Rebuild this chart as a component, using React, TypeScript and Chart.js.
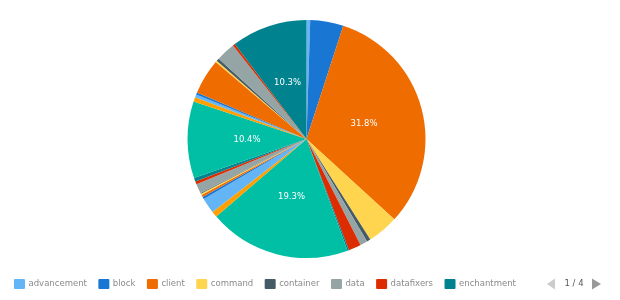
import React, { useEffect, useRef } from "react";
import { Chart, registerables } from "chart.js";

Chart.register(...registerables);

const categories = [
  "advancement", "block", "client", "command", "container", "data", "datafixers", "enchantment",
  "entity", "fluid", "gui", "inventory", "item", "loot", "nbt", "network",
  "particle", "potion", "renderer", "resources", "scoreboard", "server", "sound", "stats",
  "tags", "util", "village", "world",
];

const values = [
  5, 45, 318, 42, 5, 10, 17, 2,
  193, 8, 21, 3, 3, 2, 1, 13,
  4, 5, 104, 6, 4, 3, 48, 2,
  4, 26, 3, 103,
];

const palette = [
  "#64b5f6", "#1976d2", "#ef6c00", "#ffd54f", "#455a64",
  "#95a5a6", "#dd2c00", "#00838f", "#00bfa5", "#ffa000",
];

const legendPage = "1 / 4";
const legendPerPage = 8;

export default function App() {
  const ref = useRef<HTMLCanvasElement>(null);

  useEffect(() => {
    if (!ref.current) return;
    const font = '"DejaVu Sans", sans-serif';
    const colors = categories.map((_, i) => palette[i % palette.length]);

    const labelPlugin = {
      id: "sliceLabels",
      afterDatasetsDraw(chart: any) {
        const ctx = chart.ctx;
        const meta = chart.getDatasetMeta(0);
        const data = chart.data.datasets[0].data as number[];
        const total = data.reduce((a, b) => a + b, 0);
        ctx.save();
        ctx.font = `8.5px ${font}`;
        ctx.fillStyle = "#ffffff";
        ctx.textAlign = "center";
        ctx.textBaseline = "middle";
        meta.data.forEach((arc: any, i: number) => {
          const pct = (data[i] / total) * 100;
          if (pct < 10) return;
          const p = arc.getProps(["x", "y", "startAngle", "endAngle", "outerRadius"], true);
          const mid = (p.startAngle + p.endAngle) / 2;
          const d = p.outerRadius / 2;
          ctx.fillText(pct.toFixed(1) + "%", p.x + Math.cos(mid) * d, p.y + Math.sin(mid) * d);
        });
        ctx.restore();
      },
    };

    const legendPlugin = {
      id: "pagedLegend",
      afterDraw(chart: any) {
        const ctx = chart.ctx;
        ctx.save();
        ctx.font = `8.5px ${font}`;
        ctx.textBaseline = "middle";
        ctx.textAlign = "left";
        const yMid = 284;
        let x = 14;
        for (let i = 0; i < legendPerPage; i++) {
          ctx.fillStyle = colors[i];
          ctx.beginPath();
          (ctx as any).roundRect ? (ctx as any).roundRect(x, yMid - 5, 11, 10, 1) : ctx.rect(x, yMid - 5, 11, 10);
          ctx.fill();
          x += 11 + 3.5;
          ctx.fillStyle = "#8a8a8a";
          ctx.fillText(categories[i], x, yMid);
          x += ctx.measureText(categories[i]).width + 11.5;
        }
        ctx.fillStyle = "#cccccc";
        ctx.beginPath();
        ctx.moveTo(555, yMid - 5.5);
        ctx.lineTo(547, yMid);
        ctx.lineTo(555, yMid + 5.5);
        ctx.closePath();
        ctx.fill();
        ctx.fillStyle = "#555555";
        ctx.textAlign = "center";
        ctx.fillText(legendPage, 574, yMid);
        ctx.fillStyle = "#999999";
        ctx.beginPath();
        ctx.moveTo(592, yMid - 5.5);
        ctx.lineTo(601, yMid);
        ctx.lineTo(592, yMid + 5.5);
        ctx.closePath();
        ctx.fill();
        ctx.restore();
      },
    };

    const chart = new Chart(ref.current, {
      type: "pie",
      data: {
        labels: categories,
        datasets: [
          {
            data: values,
            backgroundColor: colors,
            borderWidth: 0,
          },
        ],
      },
      options: {
        responsive: false,
        animation: false,
        devicePixelRatio: 1,
        layout: { padding: { top: 20, bottom: 42, left: 0, right: 7 } },
        plugins: {
          legend: { display: false },
          tooltip: { enabled: false },
        },
      },
      plugins: [labelPlugin, legendPlugin],
    });
    return () => chart.destroy();
  }, []);

  return (
    <div style={{ position: "fixed", left: 0, top: 0, width: 620, height: 300, background: "#fff" }}>
      <canvas ref={ref} width={620} height={300} />
    </div>
  );
}
